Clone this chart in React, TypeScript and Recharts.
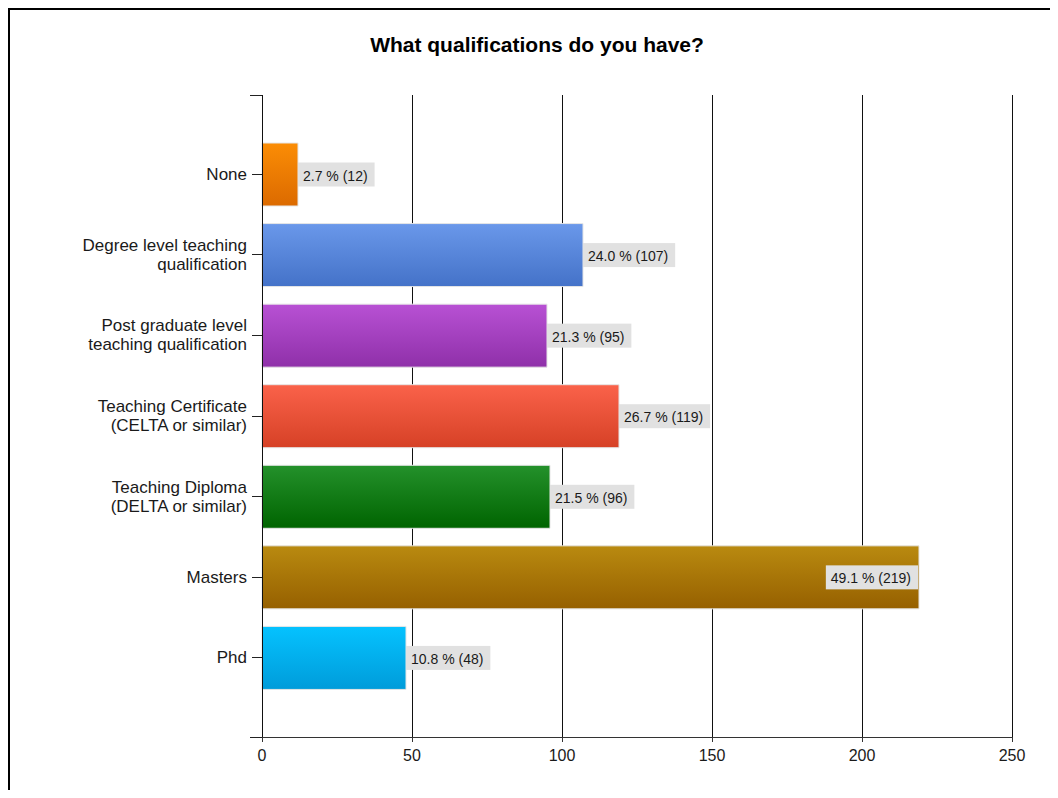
import { Bar, BarChart, CartesianGrid, Cell, LabelList, XAxis, YAxis } from "recharts"

const categories = [
  "None",
  "Degree level teaching\nqualification",
  "Post graduate level\nteaching qualification",
  "Teaching Certificate\n(CELTA or similar)",
  "Teaching Diploma\n(DELTA or similar)",
  "Masters",
  "Phd",
]
const counts = [12, 107, 95, 119, 96, 219, 48]
const percents = [2.7, 24.0, 21.3, 26.7, 21.5, 49.1, 10.8]
const xTicks = [0, 50, 100, 150, 200, 250]

// top / bottom colour of each bar's gradient
const barColors = [
  ["#fb8d05", "#dc6a00"],
  ["#6a98ea", "#4472c8"],
  ["#b851d4", "#8f30a9"],
  ["#fa624a", "#d64126"],
  ["#24912b", "#006400"],
  ["#b98a10", "#966000"],
  ["#05c2ff", "#009cda"],
]

const data = categories.map((name, i) => ({ name, count: counts[i], percent: percents[i] }))

const FONT = '"Liberation Sans", Arial, sans-serif'
const X_MAX = 250
const CAT_PAD = 39
const TICK = 10
const TICK_GAP = 5

let ctx: CanvasRenderingContext2D | null = null
function textWidth(text: string, font: string) {
  if (!ctx) ctx = document.createElement("canvas").getContext("2d")
  if (!ctx) return text.length * 7.5
  ctx.font = font
  return ctx.measureText(text).width
}

function CategoryTick(props: any) {
  const { x, y, payload, index } = props
  const lines = String(payload.value).split("\n")
  const lh = 19
  const start = y - ((lines.length - 1) * lh) / 2
  const lx1 = x + TICK_GAP
  const lx2 = lx1 + TICK
  const half = (payload.offset || 0) + CAT_PAD
  // ticks at the two ends of the category axis
  let edge = null
  if (index === 0) edge = Math.round(y - half) + 0.5
  if (index === categories.length - 1) edge = Math.round(y + half) + 0.5
  return (
    <g>
      {edge !== null && <line x1={lx1 - 2} x2={lx2} y1={edge} y2={edge} stroke="#222" />}
      <text x={x} y={start} textAnchor="end" fontFamily={FONT} fontSize={17} fill="#1a1a1a">
        {lines.map((l, i) => (
          <tspan key={i} x={x} y={start + i * lh} dominantBaseline="central">
            {l}
          </tspan>
        ))}
      </text>
    </g>
  )
}

function ValueLabel(props: any) {
  const { x, y, width, height, index } = props
  const text = `${percents[index].toFixed(1)} % (${counts[index]})`
  const w = textWidth(text, `14px ${FONT}`) + 12
  const h = 24
  const inside = counts[index] / X_MAX > 0.8
  const bx = inside ? x + width - w - 1 : x + width
  const cy = y + height / 2
  return (
    <g>
      <rect x={bx} y={cy - h / 2} width={w} height={h} fill="#e1e1e1" />
      <text x={bx + 5} y={cy + 1} dominantBaseline="central" fontFamily={FONT} fontSize={14} fill="#1a1a1a">
        {text}
      </text>
    </g>
  )
}

export default function App() {
  return (
    <div style={{ position: "relative", width: 1050, height: 782, overflow: "hidden", background: "#fff" }}>
      <div
        style={{
          position: "absolute",
          left: 0,
          top: 0,
          width: 1200,
          height: 1000,
          border: "2px solid #000",
          boxSizing: "border-box",
        }}
      />
      <div
        style={{
          position: "absolute",
          left: 0,
          top: 25,
          width: 1058,
          textAlign: "center",
          fontFamily: FONT,
          fontWeight: "bold",
          fontSize: 21,
          lineHeight: "24px",
          color: "#000",
        }}
      >
        What qualifications do you have?
      </div>
      <div style={{ position: "absolute", left: 0, top: 0 }}>
        <BarChart
          width={1050}
          height={782}
          data={data}
          layout="vertical"
          margin={{ top: 87, right: 46, bottom: 23, left: 0 }}
        >
          <defs>
            {barColors.map((c, i) => (
              <linearGradient key={i} id={`bar-grad-${i}`} x1="0" y1="0" x2="0" y2="1">
                <stop offset="0%" stopColor={c[0]} />
                <stop offset="100%" stopColor={c[1]} />
              </linearGradient>
            ))}
          </defs>
          <CartesianGrid horizontal={false} stroke="#111" shapeRendering="crispEdges" />
          <XAxis
            type="number"
            dataKey="count"
            domain={[0, X_MAX]}
            ticks={xTicks}
            interval={0}
            height={30}
            tickSize={5}
            tickMargin={8}
            axisLine={{ stroke: "#333", shapeRendering: "crispEdges" }}
            tickLine={{ stroke: "#333", shapeRendering: "crispEdges" }}
            tick={{ fontFamily: FONT, fontSize: 16, fill: "#1a1a1a" }}
          />
          <YAxis
            type="category"
            dataKey="name"
            width={254}
            interval={0}
            padding={{ top: CAT_PAD, bottom: CAT_PAD }}
            tickSize={TICK}
            tickMargin={TICK_GAP}
            axisLine={{ stroke: "#111", shapeRendering: "crispEdges" }}
            tickLine={{ stroke: "#222", shapeRendering: "crispEdges" }}
            tick={<CategoryTick />}
          />
          <Bar dataKey="count" barSize={63} stroke="#e6e6e6" strokeWidth={1} isAnimationActive={false}>
            {data.map((_, i) => (
              <Cell key={i} fill={`url(#bar-grad-${i})`} />
            ))}
            <LabelList dataKey="count" content={<ValueLabel />} />
          </Bar>
        </BarChart>
      </div>
    </div>
  )
}
